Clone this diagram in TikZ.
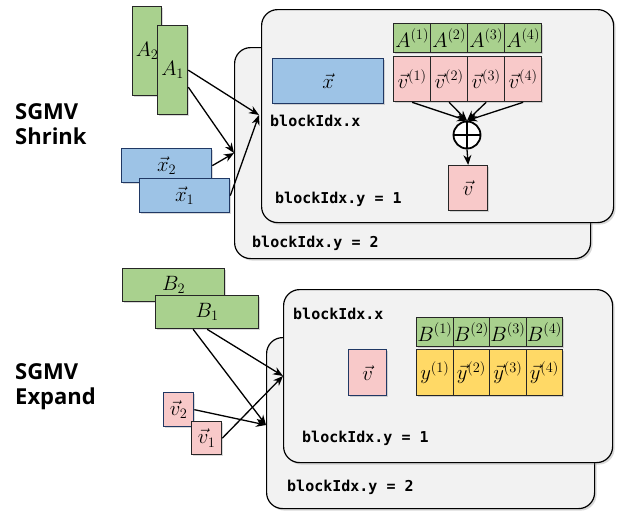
\documentclass[tikz,border=0pt]{standalone}
\usepackage{fontspec}
\setsansfont{Open Sans}
\newfontfamily\codefont{DejaVu Sans Mono}
\usetikzlibrary{shadows,arrows.meta,calc}
\definecolor{gfill}{HTML}{A9D18E}
\definecolor{bfill}{HTML}{9DC3E6}
\definecolor{pfill}{HTML}{F8C9C9}
\definecolor{yfill}{HTML}{FFD966}
\definecolor{panelfill}{HTML}{F2F2F2}
\definecolor{navy}{HTML}{203864}
\tikzset{
  box/.style={draw=black!85, line width=1.3pt, inner sep=0pt, anchor=north west,
    font=\fontsize{19.5}{23}\selectfont,
    drop shadow={shadow xshift=1.5pt,shadow yshift=-1.5pt,opacity=0.3}},
  panelbox/.style={draw=black, line width=1.2pt, fill=panelfill, rounded corners=16pt,
    anchor=north west, inner sep=0pt,
    drop shadow={shadow xshift=2pt,shadow yshift=-2pt,opacity=0.3}},
  code/.style={font=\codefont\fontsize{15}{18}\bfseries\selectfont, anchor=base west, inner sep=0pt},
  lbl/.style={font=\sffamily\fontsize{22}{25}\bfseries\selectfont, anchor=base west, inner sep=0pt},
  arr/.style={-{Stealth[length=10pt,width=8pt]}, line width=1.3pt},
}
\begin{document}
\begin{tikzpicture}[x=1pt,y=-1pt]
\useasboundingbox (0,0) rectangle (618,512);
% labels
\node[lbl] (s1a) at (15,119) {SGMV};
\node[lbl] (s1b) at (15,144) {Shrink};
\node[lbl] (s2a) at (15,379) {SGMV};
\node[lbl] (s2b) at (15,404) {Expand};
% ---------- top ----------
\node[panelbox, minimum width=356pt, minimum height=211pt] (P2) at (234,47) {};
\node[panelbox, minimum width=352pt, minimum height=213pt] (P1) at (261,9) {};
\node[code] (bx2) at (252,247) {blockIdx.y = 2};
\node[code] (bx) at (270,126) {blockIdx.x};
\node[code] (by1) at (275,203) {blockIdx.y = 1};
\node[box, fill=bfill, draw=navy, minimum width=111pt, minimum height=45pt] (xv) at (272,58) {$\vec{x}$};
\foreach \i in {1,...,4}{
  \node[box, fill=gfill, minimum width=37pt, minimum height=29pt] (A\i) at ({393+37*(\i-1)},23) {$A^{(\i)}$};
  \node[box, fill=pfill, minimum width=37pt, minimum height=45pt] (v\i) at ({393+37*(\i-1)},56) {$\vec{v}^{(\i)}$};
}
\node[circle, draw, line width=1.8pt, fill=white, minimum size=27pt, inner sep=0pt] (sum) at (467,135) {};
\draw[line width=1.8pt] (sum.north) -- (sum.south) (sum.west) -- (sum.east);
\foreach \i in {1,...,4}{ \draw[arr] (v\i.south) -- (sum.north); }
\node[box, fill=pfill, minimum width=39pt, minimum height=45pt] (vo) at (448,165) {$\vec{v}$};
\draw[arr] (sum.south) -- (vo.north);
% inputs
\node[box, fill=gfill, minimum width=29pt, minimum height=89pt] (Am2) at (132,6) {$A_2$};
\node[box, fill=gfill, minimum width=30pt, minimum height=89pt] (Am1) at (157,25) {$A_1$};
\node[box, fill=bfill, draw=navy, minimum width=90pt, minimum height=34pt] (x2) at (121,148) {$\vec{x}_2$};
\node[box, fill=bfill, draw=navy, minimum width=90pt, minimum height=34pt] (x1) at (139,178) {$\vec{x}_1$};
\coordinate (t1) at (259,115);
\coordinate (t2) at (234,153);
\draw[arr] (Am1.east) -- (t1);
\draw[arr] ([yshift=-17pt]Am1.east) -- (t2);
\draw[arr] (x2.east) -- (t2);
\draw[arr] (x1.east) -- (t1);
% ---------- bottom ----------
\node[panelbox, minimum width=328pt, minimum height=171pt] (P4) at (266,337) {};
\node[panelbox, minimum width=329pt, minimum height=173pt] (P3) at (283,289) {};
\node[code] (cx2) at (287,491) {blockIdx.y = 2};
\node[code] (cx) at (293,319) {blockIdx.x};
\node[code] (cy1) at (302,442) {blockIdx.y = 1};
\node[box, fill=pfill, draw=navy, minimum width=38pt, minimum height=46pt] (vb) at (348,349) {$\vec{v}$};
\foreach \i in {1,...,4}{
  \node[box, fill=gfill, minimum width=36.5pt, minimum height=29pt] (B\i) at ({416+36.5*(\i-1)},317) {$B^{(\i)}$};
}
\node[box, fill=yfill, minimum width=36.5pt, minimum height=46pt] (y1) at (416,349) {$y^{(1)}$};
\foreach \i in {2,...,4}{
  \node[box, fill=yfill, minimum width=36.5pt, minimum height=46pt] (y\i) at ({416+36.5*(\i-1)},349) {$\vec{y}^{(\i)}$};
}
\node[box, fill=gfill, minimum width=102pt, minimum height=33pt] (Bm2) at (122,268) {$B_2$};
\node[box, fill=gfill, minimum width=103pt, minimum height=33pt] (Bm1) at (155,295) {$B_1$};
\node[box, fill=pfill, draw=navy, minimum width=30pt, minimum height=34pt] (vv2) at (163,392) {$\vec{v}_2$};
\node[box, fill=pfill, minimum width=30pt, minimum height=33pt] (vv1) at (191,421) {$\vec{v}_1$};
\coordinate (t3) at (283,376);
\coordinate (t4) at (266,425);
\draw[arr] (Bm1.south) -- (t3);
\draw[arr] ([xshift=-14pt]Bm1.south) -- (t4);
\draw[arr] (vv2.east) -- (t4);
\draw[arr] (vv1.east) -- (t3);
\end{tikzpicture}
\end{document}
